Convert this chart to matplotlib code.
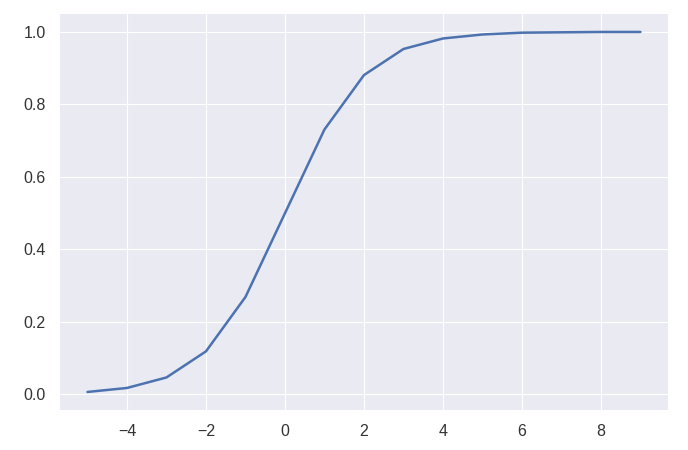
import matplotlib
matplotlib.use("Agg")
import matplotlib.pyplot as plt
import seaborn as sns

# ==============================
# Datos
# ==============================
x = [-5, -4, -3, -2, -1, 0, 1, 2, 3, 4, 5, 6, 7, 8, 9]
y = [0.007, 0.018, 0.047, 0.119, 0.269, 0.500, 0.731, 0.881,
     0.953, 0.982, 0.993, 0.998, 0.999, 1.000, 1.000]

# ==============================
# Estilo
# ==============================
sns.set_style("darkgrid")
plt.rcParams['font.family'] = ['Liberation Sans', 'DejaVu Sans']
plt.rcParams['axes.facecolor'] = '#EAEAF2'

fig = plt.figure(figsize=(6.88, 4.5), dpi=100)
ax = fig.add_axes([0.087, 0.089, 0.884, 0.880])

ax.plot(x, y, color='#4C72B0', linewidth=1.8)

ax.set_yticks([0.0, 0.2, 0.4, 0.6, 0.8, 1.0])
ax.set_xticks([-4, -2, 0, 2, 4, 6, 8])
ax.tick_params(labelsize=11.5, colors='#333333', length=0, pad=10)
for s in ax.spines.values():
    s.set_visible(False)

fig.savefig("out.png", dpi=100)
